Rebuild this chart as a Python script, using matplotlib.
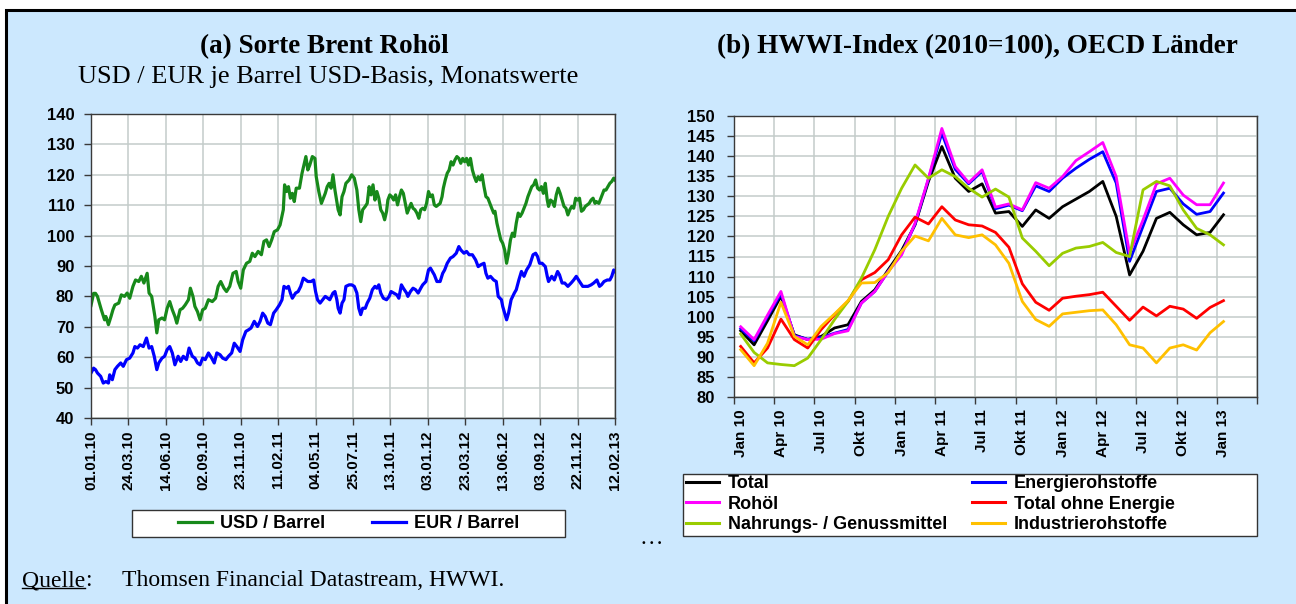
import numpy as np
import pandas as pd
import matplotlib
matplotlib.use('Agg')
import matplotlib.pyplot as plt
from matplotlib.patches import Rectangle
from matplotlib.lines import Line2D

# ---------------- Panel (a): Brent, daily (business-day index from 01.01.10) ----------------
usd_day = [0, 4, 7, 10, 16, 21, 23, 27, 31, 34, 37, 43, 47, 52, 56, 60, 65, 69, 74, 78, 82, 87, 90, 94, 99,
           102, 105, 110, 114, 118, 122, 126, 130, 133, 138, 142, 146, 151, 154, 158, 161, 165, 169, 173, 177,
           182, 188, 193, 197, 201, 206, 210, 215, 220, 225, 228, 232, 236, 241, 246, 250, 254, 259, 264, 268,
           272, 276, 280, 284, 289, 293, 298, 300, 303, 306, 309, 312, 315, 318, 323, 327, 330, 333, 336, 339,
           343, 347, 349, 353, 357, 360, 363, 366, 369, 372, 375, 378, 381, 383, 386, 389, 392, 395, 400, 404,
           408, 412, 415, 418, 421, 425, 428, 431, 434, 437, 440, 443, 446, 449, 452, 455, 458, 460, 463, 466,
           469, 472, 475, 478, 481, 484, 487, 490, 493, 496, 499, 502, 505, 508, 511, 514, 517, 520, 523, 526,
           529, 532, 535, 538, 541, 544, 546, 549, 552, 555, 558, 561, 564, 567, 570, 573, 576, 579, 582, 585,
           588, 591, 594, 597, 600, 603, 606, 609, 612, 615, 618, 621, 624, 626, 629, 632, 635, 638, 641, 644,
           647, 650, 653, 656, 659, 662, 665, 668, 671, 674, 677, 680, 683, 686, 689, 692, 695, 698, 701, 704,
           707, 709, 712, 715, 718, 721, 724, 727, 730, 733, 736, 739, 742, 745, 748, 751, 754, 757, 760, 763,
           766, 769, 772, 775, 778, 781, 783, 787, 789, 792, 795, 798, 801, 804, 807, 810, 812]
usd_val = [77, 81, 81, 80, 75.6, 72.3, 73.4, 70.7, 73.4, 75.6, 77.2, 77.8, 80.5, 80, 81.1, 79.4, 83.3, 85.4, 84.9,
           86.6, 84.4, 87.6, 81.1, 80, 73.4, 68, 72.3, 72.9, 72.3, 76.1, 78.3, 75.6, 73.4, 71.2, 75.6, 76.1, 77.2,
           78.9, 82.7, 80, 76.7, 75, 72.3, 75.6, 76.1, 78.9, 78.3, 79.4, 83.3, 84.9, 82.7, 81.6, 83.3, 87.6, 88.2,
           84.9, 82.7, 88.7, 90.9, 91.5, 94.2, 93.1, 94.8, 93.7, 98.1, 98.6, 96.4, 98.6, 101.3, 101.9, 103.5, 108.5,
           116.7, 114.5, 116.1, 112.3, 113.9, 111.2, 115.6, 115.6, 120.5, 123.2, 126.0, 121.6, 123.2, 126.0, 125.4,
           119.4, 114.5, 110.6, 112.3, 113.9, 116.1, 117.2, 115.6, 120.0, 115.0, 111.2, 108.5, 106.8, 112.8, 114.5,
           117.2, 118.3, 120.0, 118.9, 115.0, 108.5, 104.6, 108.5, 109.6, 110.6, 116.1, 113.4, 116.7, 111.7, 114.5,
           112.3, 108.5, 107.4, 105.2, 108.0, 111.7, 113.4, 112.8, 111.7, 113.4, 110.1, 112.8, 115.0, 113.9, 110.6,
           107.4, 109.0, 110.6, 109.0, 108.5, 107.4, 105.7, 108.5, 109.0, 108.5, 110.6, 114.5, 112.8, 113.4, 110.1,
           109.6, 110.1, 110.6, 112.8, 115.6, 118.3, 120.5, 121.6, 124.3, 123.2, 124.9, 126.0, 125.4, 123.8, 125.4,
           124.3, 125.4, 123.2, 125.4, 121.6, 119.4, 117.8, 119.4, 118.3, 120.0, 116.1, 112.8, 112.3, 110.6, 109.0,
           107.4, 108.0, 104.1, 101.3, 98.6, 97.5, 95.3, 90.9, 94.2, 98.6, 100.8, 99.7, 104.1, 107.4, 106.3, 107.4,
           109.0, 110.6, 112.8, 114.5, 116.1, 116.7, 118.3, 115.6, 115.0, 116.1, 113.9, 117.2, 111.7, 109.6, 111.7,
           111.2, 109.6, 113.4, 115.6, 113.9, 111.7, 109.6, 109.0, 106.8, 108.5, 109.6, 109.0, 112.3, 111.7, 112.3,
           108.0, 108.5, 109.6, 110.1, 110.6, 111.7, 112.3, 110.6, 111.2, 110.6, 111.7, 113.4, 115.0, 115.0, 116.1,
           117.2, 117.8, 118.9, 118.3]

eur_day = [0, 4, 7, 10, 15, 19, 23, 27, 29, 33, 37, 41, 46, 50, 55, 60, 65, 68, 72, 76, 81, 86, 90, 94, 98, 102,
           105, 110, 114, 118, 122, 126, 130, 135, 139, 143, 148, 152, 157, 161, 165, 169, 173, 177, 182, 187, 191,
           195, 200, 204, 209, 213, 218, 222, 226, 231, 235, 240, 244, 248, 253, 258, 262, 266, 270, 274, 278, 283,
           287, 292, 296, 299, 303, 306, 309, 312, 317, 321, 325, 329, 333, 336, 341, 345, 348, 351, 355, 359, 363,
           367, 370, 375, 378, 381, 383, 386, 389, 392, 395, 400, 404, 408, 412, 415, 418, 421, 425, 428, 432, 436,
           440, 443, 446, 449, 453, 458, 462, 465, 469, 474, 477, 481, 484, 489, 491, 495, 499, 503, 507, 511, 514,
           519, 523, 526, 529, 532, 536, 541, 545, 548, 552, 557, 561, 566, 570, 573, 578, 582, 586, 591, 596, 600,
           604, 609, 612, 615, 619, 624, 628, 631, 636, 638, 641, 644, 647, 651, 656, 659, 663, 667, 671, 675, 680,
           685, 689, 692, 695, 699, 704, 707, 709, 714, 718, 723, 726, 730, 734, 739, 744, 748, 752, 757, 762, 766,
           770, 775, 779, 784, 788, 791, 795, 800, 804, 807, 810, 812]
eur_val = [54.8, 56.4, 55.9, 54.8, 53.7, 51.5, 52.0, 51.5, 54.2, 52.6, 55.9, 57.0, 58.1, 57.0, 59.2, 59.7, 61.4,
           63.5, 63.0, 64.1, 63.5, 66.3, 63.0, 63.5, 60.3, 55.9, 58.1, 59.7, 60.3, 62.5, 63.5, 61.4, 57.5, 60.3,
           58.6, 60.3, 59.2, 63.0, 60.3, 59.7, 58.1, 57.5, 59.7, 59.2, 61.4, 59.7, 58.1, 61.4, 60.8, 59.7, 59.2,
           60.3, 61.4, 64.6, 63.5, 61.9, 65.7, 68.5, 69.0, 69.6, 71.8, 70.1, 71.8, 74.5, 73.4, 71.2, 70.7, 74.5,
           75.6, 77.2, 78.9, 83.3, 82.7, 83.3, 81.1, 79.4, 81.1, 81.6, 83.3, 86.0, 85.4, 84.9, 84.9, 85.4, 81.6,
           78.9, 77.8, 78.9, 80.0, 79.4, 78.9, 81.1, 81.6, 78.9, 76.1, 74.5, 77.8, 78.9, 83.3, 83.8, 83.8, 83.3,
           81.1, 76.1, 74.0, 76.1, 76.1, 77.8, 79.4, 82.2, 83.3, 82.7, 83.8, 81.1, 79.4, 78.9, 80.0, 81.6, 81.1,
           80.5, 79.4, 83.8, 82.7, 81.1, 80.0, 81.6, 82.7, 82.2, 81.1, 82.7, 83.8, 84.9, 88.7, 89.3, 88.2, 87.1,
           84.9, 84.9, 87.6, 88.7, 90.9, 92.6, 93.1, 94.2, 96.4, 95.3, 94.2, 94.8, 93.7, 93.7, 92.0, 89.8, 90.4,
           90.9, 87.6, 86.0, 86.6, 85.4, 84.9, 80.0, 78.9, 76.7, 74.5, 72.3, 74.5, 78.9, 81.1, 82.2, 85.4, 88.2,
           86.6, 88.7, 90.4, 93.7, 94.2, 93.1, 90.9, 90.9, 89.8, 86.6, 84.9, 86.6, 85.4, 88.2, 87.1, 84.4, 84.4,
           83.3, 84.4, 85.4, 86.6, 84.9, 83.3, 83.3, 83.3, 83.8, 84.4, 85.4, 83.3, 83.8, 84.9, 85.4, 85.4, 86.6,
           88.7, 88.2]

tick_labels_a = ['01.01.10', '24.03.10', '14.06.10', '02.09.10', '23.11.10', '11.02.11', '04.05.11', '25.07.11',
                 '13.10.11', '03.01.12', '23.03.12', '13.06.12', '03.09.12', '22.11.12', '12.02.13']
yticks_a = [40, 50, 60, 70, 80, 90, 100, 110, 120, 130, 140]

# ---------------- Panel (b): HWWI index, monthly Jan 10 .. Jan 13 ----------------
total = [96.5, 93.0, 99.0, 105.1, 95.5, 94.3, 95.1, 97.2, 98.0, 103.8, 106.7, 111.7, 116.5, 122.9, 133.7, 142.4,
         134.5, 131.2, 133.1, 125.8, 126.2, 122.5, 126.6, 124.5, 127.4, 129.3, 131.2, 133.7, 125.0, 110.4, 116.3,
         124.5, 126.0, 122.9, 120.4, 121.0, 125.4]
energie = [97.0, 94.0, 100.0, 105.7, 95.3, 94.4, 94.8, 95.9, 96.8, 103.4, 106.3, 111.3, 115.8, 123.0, 134.3, 145.7,
           136.7, 133.1, 136.2, 126.9, 127.8, 126.4, 132.6, 131.2, 134.5, 137.0, 139.2, 141.1, 133.3, 113.8, 122.5,
           131.2, 132.0, 128.1, 125.5, 126.2, 130.8]
rohoel = [97.5, 94.3, 100.4, 106.3, 95.1, 94.3, 94.4, 95.8, 96.5, 103.4, 106.3, 111.3, 115.4, 123.3, 134.5, 146.9,
          137.4, 133.4, 136.6, 127.3, 128.1, 126.6, 133.4, 132.0, 134.9, 138.9, 141.1, 143.4, 134.9, 115.8, 124.1,
          133.1, 134.5, 130.3, 127.9, 127.9, 133.3]
ohne_energie = [92.6, 88.5, 92.2, 99.4, 94.3, 92.2, 96.8, 100.5, 103.8, 109.2, 111.0, 114.2, 120.4, 124.8, 123.1,
                127.4, 124.1, 122.9, 122.6, 121.0, 117.3, 108.2, 103.6, 101.6, 104.6, 105.1, 105.5, 106.1, 102.6,
                99.1, 102.4, 100.2, 102.6, 101.9, 99.6, 102.3, 104.0]
nahrung = [95.7, 91.1, 88.5, 88.1, 87.8, 89.7, 94.3, 99.3, 103.8, 109.6, 116.7, 125.0, 132.0, 137.8, 134.5, 136.6,
           134.9, 132.0, 129.8, 131.8, 129.8, 119.6, 116.3, 112.7, 115.8, 117.1, 117.5, 118.5, 116.0, 115.0, 131.6,
           133.7, 132.6, 126.6, 122.0, 120.4, 117.9]
industrie = [91.8, 87.8, 93.4, 103.6, 95.1, 93.0, 97.6, 100.7, 104.0, 108.4, 108.5, 111.0, 116.3, 120.1, 118.9,
             124.5, 120.4, 119.7, 120.4, 117.9, 113.3, 103.8, 99.3, 97.6, 100.7, 101.1, 101.5, 101.7, 98.0, 93.0,
             92.2, 88.5, 92.2, 93.0, 91.7, 96.0, 98.8]
series_b_names = ['Total', 'Energierohstoffe', 'Rohöl', 'Total ohne Energie', 'Nahrungs- / Genussmittel',
                  'Industrierohstoffe']
month_names = {1: 'Jan', 4: 'Apr', 7: 'Jul', 10: 'Okt'}
yticks_b = [80, 85, 90, 95, 100, 105, 110, 115, 120, 125, 130, 135, 140, 145, 150]

# ---------------- styling ----------------
W, H = 1296, 604
BG = '#CCE8FE'
GRID = '#C3CCCA'
SPINE = '#3A3A3A'
SANS = 'Liberation Sans'
SERIF = 'Liberation Serif'
C_USD, C_EUR = '#17891A', '#0000FF'
C_B = {'Total': '#000000', 'Energierohstoffe': '#0000FF', 'Rohöl': '#FF00FF', 'Total ohne Energie': '#FF0000',
       'Nahrungs- / Genussmittel': '#99CC00', 'Industrierohstoffe': '#FFC000'}


def fx(px):
    return px / W


def fy(py):
    return 1 - py / H


fig = plt.figure(figsize=(W / 100, H / 100), dpi=100)
fig.patch.set_facecolor('white')
fig.patches.append(Rectangle((fx(6), -0.1), 1.2, fy(10) + 0.1, transform=fig.transFigure,
                             facecolor=BG, edgecolor='black', linewidth=2.2, zorder=-10))


def style_axes(ax):
    ax.set_facecolor('white')
    for s in ax.spines.values():
        s.set_color(SPINE)
        s.set_linewidth(1.0)
    ax.grid(True, color=GRID, linewidth=1.1)
    ax.set_axisbelow(True)


# ---- Panel (a)
axa = fig.add_axes([fx(91), fy(418), fx(615) - fx(91), fy(114) - fy(418)])
style_axes(axa)
bdays = pd.bdate_range('2010-01-01', '2013-02-12')
tick_pos_a = [bdays.get_loc(d) for d in pd.to_datetime(tick_labels_a, format='%d.%m.%y')]
axa.plot(usd_day, usd_val, color=C_USD, lw=2.3, solid_joinstyle='round')
axa.plot(eur_day, eur_val, color=C_EUR, lw=2.3, solid_joinstyle='round')
axa.set_xlim(0, len(bdays) - 1)
axa.set_ylim(40, 140)
axa.set_xticks(tick_pos_a)
axa.set_xticklabels(tick_labels_a, rotation=90, fontsize=11, fontweight='bold', family=SANS)
axa.set_yticks(yticks_a)
axa.set_yticklabels([str(v) for v in yticks_a], fontsize=12, fontweight='bold', family=SANS)
axa.tick_params(axis='x', direction='out', length=5, width=1, color=SPINE, pad=4)
axa.tick_params(axis='y', direction='out', length=5, width=1, color=SPINE, pad=7)

# ---- Panel (b)
axb = fig.add_axes([fx(734), fy(397), fx(1257) - fx(734), fy(116) - fy(397)])
style_axes(axb)
months = pd.date_range('2010-01-01', '2013-03-01', freq='MS')
xb = np.arange(len(total))
for name, vals in zip(series_b_names, [total, energie, rohoel, ohne_energie, nahrung, industrie]):
    axb.plot(xb, vals, color=C_B[name], lw=2.0, label=name)
axb.set_xlim(-0.5, len(months) - 0.5)
axb.set_ylim(80, 150)
axb.set_xticks(np.arange(-0.5, len(months), 3))
axb.set_xticklabels([])
lab_idx = [i for i, m in enumerate(months) if m.month in month_names and i < len(total)]
axb.set_xticks(lab_idx, minor=True)
axb.set_xticklabels([f"{month_names[months[i].month]} {months[i].year % 100:02d}" for i in lab_idx],
                    minor=True, rotation=90, fontsize=11, fontweight='bold', family=SANS)
axb.tick_params(axis='x', which='major', direction='out', length=5, width=1, color=SPINE)
axb.tick_params(axis='x', which='minor', length=0, pad=9)
axb.grid(True, which='major', color=GRID, linewidth=1.1)
axb.set_yticks(yticks_b)
axb.set_yticklabels([str(v) for v in yticks_b], fontsize=12, fontweight='bold', family=SANS)
axb.tick_params(axis='y', direction='out', length=5, width=1, color=SPINE, pad=9)

# ---- titles
fig.text(fx(324), fy(47), '(a) Sorte Brent Rohöl', ha='center', va='center', family=SERIF,
         fontweight='bold', fontsize=19.5)
fig.text(fx(328), fy(77), 'USD / EUR je Barrel USD-Basis, Monatswerte', ha='center', va='center',
         family=SERIF, fontsize=19)
fig.text(fx(977), fy(47), '(b) HWWI-Index (2010=100), OECD Länder', ha='center', va='center',
         family=SERIF, fontweight='bold', fontsize=19.5)

# ---- legends
leg_prop = {'family': SANS, 'weight': 'bold', 'size': 13}
fig.patches.append(Rectangle((fx(132), fy(537)), fx(565) - fx(132), fy(510) - fy(537),
                             transform=fig.transFigure, facecolor='white', edgecolor='#333333', lw=1.0, zorder=1))
for col, lab, x0 in [(C_USD, 'USD / Barrel', 178), (C_EUR, 'EUR / Barrel', 372)]:
    fig.legend([Line2D([], [], color=col, lw=2.3)], [lab], loc='center left',
               bbox_to_anchor=(fx(x0), fy(523.5)), frameon=False, borderpad=0, borderaxespad=0,
               handlelength=1.9, handletextpad=0.45, prop=leg_prop)

fig.patches.append(Rectangle((fx(683), fy(536)), fx(1257) - fx(683), fy(474) - fy(536),
                             transform=fig.transFigure, facecolor='white', edgecolor='#333333', lw=1.0, zorder=1))
order_cols = [['Total', 'Rohöl', 'Nahrungs- / Genussmittel'],
              ['Energierohstoffe', 'Total ohne Energie', 'Industrierohstoffe']]
for names, x0 in zip(order_cols, [686, 972]):
    hs = [Line2D([], [], color=C_B[n], lw=2.2) for n in names]
    fig.legend(hs, names, loc='upper left', bbox_to_anchor=(fx(x0), fy(475)), frameon=False,
               borderpad=0, borderaxespad=0, handlelength=1.8, handletextpad=0.5, labelspacing=0.2,
               prop=leg_prop)

# ---- footer
fig.text(fx(651), fy(538), '…', ha='center', va='center', family=SERIF, fontsize=17)
q = fig.text(fx(22), fy(581), 'Quelle', ha='left', va='center', family=SERIF, fontsize=17)
fig.canvas.draw()
bb = q.get_window_extent().transformed(fig.transFigure.inverted())
fig.text(bb.x1, fy(581), ':', ha='left', va='center', family=SERIF, fontsize=17)
fig.add_artist(Line2D([bb.x0, bb.x1], [bb.y0 + 0.005, bb.y0 + 0.005], color='black', lw=1.0,
                      transform=fig.transFigure))
fig.text(fx(122), fy(581), 'Thomsen Financial Datastream, HWWI.', ha='left', va='center', family=SERIF,
         fontsize=17)

fig.savefig('out.png', dpi=100, facecolor=fig.get_facecolor())
